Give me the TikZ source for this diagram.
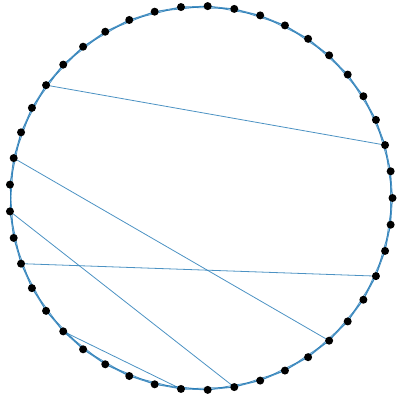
\documentclass[tikz,border=0pt]{standalone}
\usepackage{xcolor}
\usepackage{tikz}
\usetikzlibrary{positioning, calc}
\definecolor{edgeblue}{RGB}{31,119,180}

\tikzset{
    ringdot/.style={circle, fill=black, draw=none, inner sep=0pt, minimum size=8pt},
    link/.style={draw=edgeblue, line width=0.8pt, opacity=0.8}
}

\begin{document}
\begin{tikzpicture}[x=1pt, y=1pt]
    \useasboundingbox (0,0) rectangle (396,403);
    % 45 positions on the ring, counterclockwise from the right
    \foreach \i in {0,...,44} {
        \coordinate (v\i) at ({201+191.5*cos(8*\i)}, {205+192*sin(8*\i)});
    }
    % ring links to the next and second next position
    \foreach \i in {0,...,44} {
        \pgfmathtruncatemacro{\j}{mod(\i+1,45)}
        \pgfmathtruncatemacro{\k}{mod(\i+2,45)}
        \draw[link] (v\i) -- (v\j);
        \draw[link] (v\i) -- (v\k);
    }
    % long chords
    \draw[link] (v18) -- (v2);
    \draw[link] (v21) -- (v39);
    \draw[link] (v23) -- (v35);
    \draw[link] (v25) -- (v42);
    \draw[link] (v28) -- (v33);
    % dots on top
    \foreach \i in {0,...,44} {
        \node[ringdot] (d\i) at (v\i) {};
    }
\end{tikzpicture}
\end{document}
